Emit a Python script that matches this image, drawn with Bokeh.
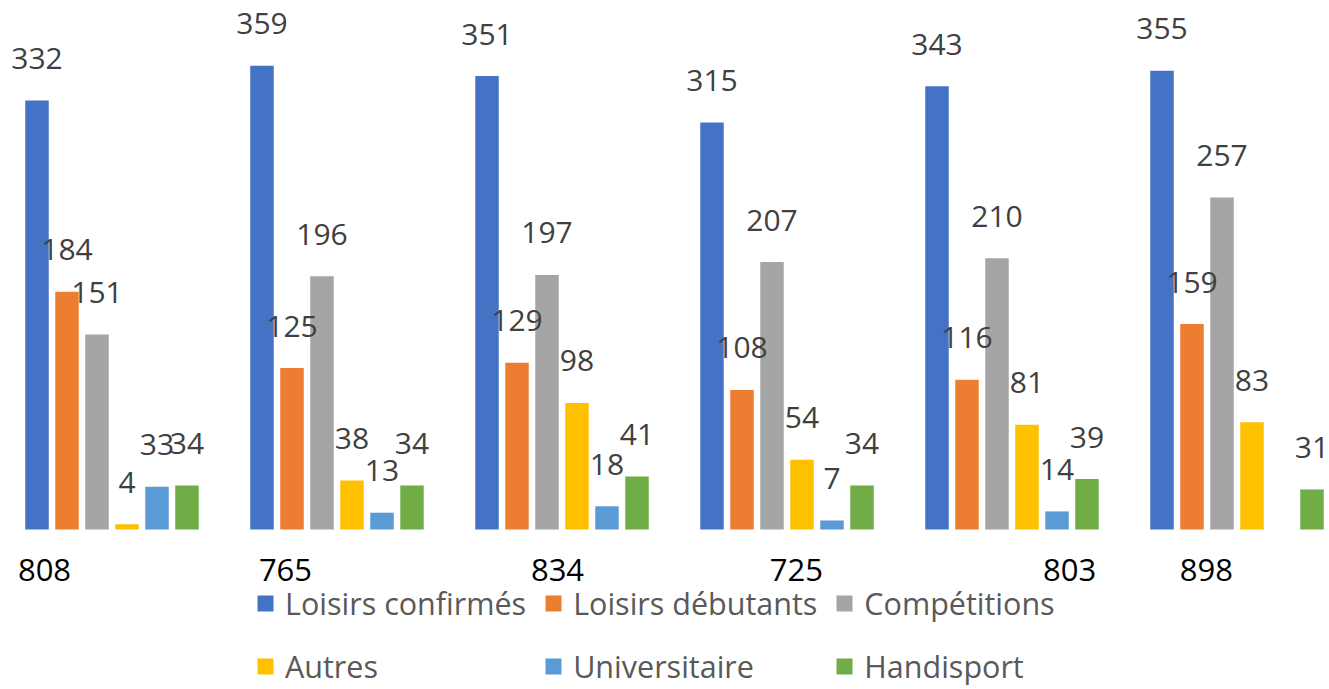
from bokeh.plotting import figure
from bokeh.models import ColumnDataSource, Legend, LegendItem, Range1d
from bokeh.core.properties import value
from bokeh.embed import file_html
from bokeh.resources import INLINE

# ---- data ----
groups = ["808", "765", "834", "725", "803", "898"]
series = ["Loisirs confirmés", "Loisirs débutants", "Compétitions",
          "Autres", "Universitaire", "Handisport"]
loisirs_confirmes = [332, 359, 351, 315, 343, 355]
loisirs_debutants = [184, 125, 129, 108, 116, 159]
competitions = [151, 196, 197, 207, 210, 257]
autres = [4, 38, 98, 54, 81, 83]
universitaire = [33, 13, 18, 7, 14, None]
handisport = [34, 34, 41, 34, 39, 31]
values_by_series = [loisirs_confirmes, loisirs_debutants, competitions,
                    autres, universitaire, handisport]

# ---- styles / layout ----
colors = ["#4472C4", "#ED7D31", "#A5A5A5", "#FFC000", "#5B9BD5", "#70AD47"]
label_shift = [-0.30, -0.229, -0.02, 0.042, 0.256, -0.136]  # category label offsets (group units)

W, H = 1329, 689
base_px = 529.0
ppu = 1.292
group_px = 225.0
first_center = 111.5
bar_step = 30.0 / group_px
bar_w = 23.5 / group_px

p = figure(width=W, height=H, output_backend="svg", toolbar_location=None,
           x_range=Range1d(-first_center / group_px, (W - first_center) / group_px),
           y_range=Range1d(-(H - base_px) / ppu, base_px / ppu),
           min_border=0, outline_line_color=None)
p.xaxis.visible = False
p.yaxis.visible = False
p.grid.visible = False
p.background_fill_color = "white"
p.border_fill_color = "white"

label_gap = 42.0 / ppu
items = []
sources = []
for s, (name, vals, col) in enumerate(zip(series, values_by_series, colors)):
    xs, tops, labels, ly = [], [], [], []
    for g, v in enumerate(vals):
        if v is None:
            continue
        xs.append(g + (s - 2.5) * bar_step)
        tops.append(v)
        labels.append(str(v))
        ly.append(v + label_gap)
    src = ColumnDataSource(dict(x=xs, top=tops, label=labels, ly=ly))
    sources.append(src)
    r = p.vbar(x="x", top="top", bottom=0, width=bar_w, source=src,
               fill_color=col, line_color=None)
    items.append(LegendItem(label=name, renderers=[r]))

# data labels drawn after all bars so they sit on top
for src in sources:
    p.text(x="x", y="ly", text="label", source=src, text_align="center",
           text_baseline="alphabetic", text_font=value("Open Sans"),
           text_font_size="30px", text_color="#404040")

cat_src = ColumnDataSource(dict(
    x=[g + d for g, d in zip(range(len(groups)), label_shift)],
    y=[-(569 - base_px) / ppu] * len(groups),
    text=groups))
p.text(x="x", y="y", text="text", source=cat_src, text_align="center",
       text_baseline="alphabetic", text_font=value("Open Sans"),
       text_font_size="31px", text_color="black")

legend = Legend(items=items, ncols=3, orientation="horizontal",
                location=(255, 0), glyph_width=20, glyph_height=20,
                label_height=46, spacing=17, padding=0, margin=0,
                label_standoff=10, border_line_color=None,
                background_fill_alpha=0,
                label_text_font="Open Sans", label_text_font_size="30.5px",
                label_text_color="#595959")
p.add_layout(legend)

open("out.html", "w").write(file_html(p, INLINE))
